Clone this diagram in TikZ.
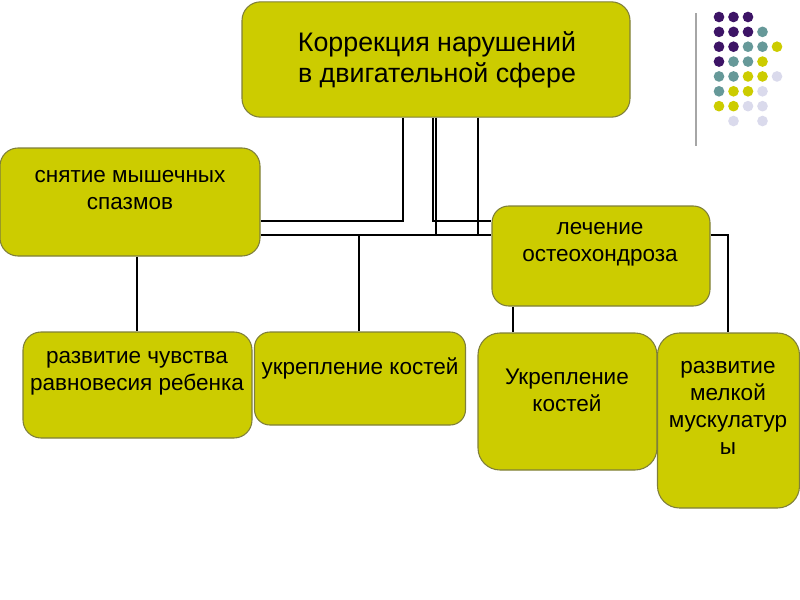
\documentclass[tikz,border=0pt]{standalone}
\usepackage{fontspec}
\setmainfont{Liberation Sans}
\definecolor{boxfill}{HTML}{CCCC00}
\definecolor{boxline}{HTML}{7F7F3A}
\definecolor{dotP}{HTML}{3D1466}
\definecolor{dotT}{HTML}{669999}
\definecolor{dotY}{HTML}{CCCC00}
\definecolor{dotL}{HTML}{DADAEC}
\begin{document}
\begin{tikzpicture}[x=0.75pt,y=-0.75pt,
  box/.style={draw=boxline,fill=boxfill,line width=0.8pt,inner sep=0pt},
  txt/.style={inner sep=0pt,align=center,text=black,font=\fontsize{16.9}{20.25}\selectfont},
  bigtxt/.style={inner sep=0pt,align=center,text=black,font=\fontsize{20.1}{23.25}\selectfont},
  conn/.style={draw=black,line width=1.5pt}]
\useasboundingbox (0,0) rectangle (800,600);
% boxes
\node[box,rounded corners=14pt,minimum width=291pt,minimum height=86.5pt] (top) at (436,59.5) {};
\node[box,rounded corners=13.5pt,minimum width=195pt,minimum height=81pt] (sn) at (130,202) {};
\node[box,rounded corners=12.5pt,minimum width=163.5pt,minimum height=75pt] (le) at (601,256) {};
\node[box,rounded corners=13.5pt,minimum width=171.75pt,minimum height=79.5pt] (rc) at (137.5,385) {};
\node[box,rounded corners=11.5pt,minimum width=158.25pt,minimum height=69.75pt] (u1) at (360,378.5) {};
\node[box,rounded corners=16.5pt,minimum width=134.25pt,minimum height=102.75pt] (u2) at (567.5,401.5) {};
\node[box,rounded corners=16.5pt,minimum width=106.5pt,minimum height=131.25pt] (ml) at (728.5,420.5) {};
% texts
\node[bigtxt] (ttop) at (437,60) {Коррекция нарушений\\в двигательной сфере};
\node[txt] (tsn) at (130,190) {снятие мышечных\\спазмов};
\node[txt] (tle) at (600,244) {лечение\\остеохондроза};
\node[txt] (trc) at (137,373.5) {развитие чувства\\равновесия ребенка};
\node[txt] (tu1) at (360,368) {укрепление костей};
\node[txt] (tu2) at (567,390) {Укрепление\\костей};
\node[txt] (tml) at (728,408) {развитие\\мелкой\\мускулатур\\ы};
% connector coordinates
\coordinate (c1) at (403,221);
\coordinate (c2) at (433,221);
\coordinate (c3) at (436,235);
\coordinate (c4) at (478,235);
\coordinate (c5) at (359,235);
\coordinate (c6) at (137,0);
\coordinate (c7) at (513,0);
\coordinate (c8) at (728,235);
% connectors
\draw[conn] (top.south -| c1) -- (c1) -- (sn.east |- c1);
\draw[conn] (top.south -| c2) -- (c2) -- (le.west |- c2);
\draw[conn] (top.south -| c3) -- (c3);
\draw[conn] (top.south -| c4) -- (c4);
\draw[conn] (sn.east |- c3) -- (le.west |- c3);
\draw[conn] (c5) -- (u1.north -| c5);
\draw[conn] (sn.south -| c6) -- (rc.north -| c6);
\draw[conn] (le.south -| c7) -- (u2.north -| c7);
\draw[conn] (le.east |- c8) -- (c8) -- (ml.north -| c8);
% decoration
\draw[color=gray!70,line width=1.5pt] (696,13) -- (696,146);
\foreach \c/\r/\col in {0/0/dotP,1/0/dotP,2/0/dotP,
  0/1/dotP,1/1/dotP,2/1/dotP,3/1/dotT,
  0/2/dotP,1/2/dotP,2/2/dotT,3/2/dotT,4/2/dotY,
  0/3/dotP,1/3/dotT,2/3/dotT,3/3/dotY,
  0/4/dotT,1/4/dotT,2/4/dotY,3/4/dotY,4/4/dotL,
  0/5/dotT,1/5/dotY,2/5/dotY,3/5/dotL,
  0/6/dotY,1/6/dotY,2/6/dotL,3/6/dotL,
  1/7/dotL,3/7/dotL}
  \fill[\col] (719+14.5*\c,17+14.86*\r) circle[radius=4pt];
\end{tikzpicture}
\end{document}
